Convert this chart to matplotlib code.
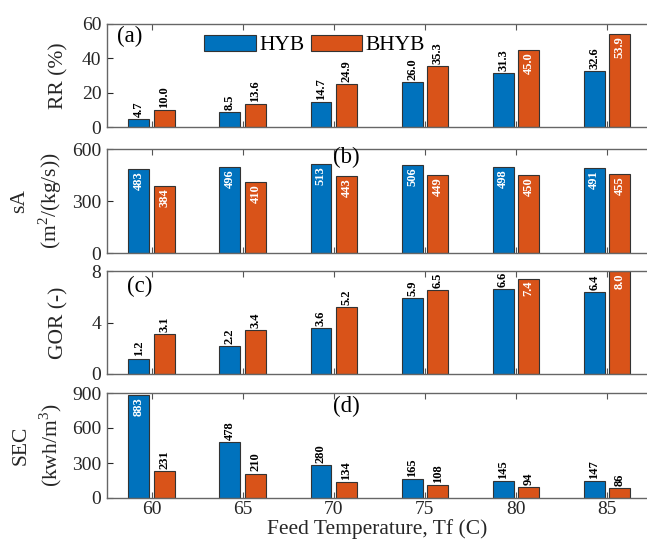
import numpy as np
import matplotlib
matplotlib.use("Agg")
from matplotlib import pyplot as plt

plt.rcParams['font.family'] = ['Liberation Serif', 'DejaVu Serif']
plt.rcParams['mathtext.fontset'] = 'custom'
plt.rcParams['mathtext.rm'] = 'Liberation Serif'

# data
temps = [60, 65, 70, 75, 80, 85]
rr_hyb = [4.7, 8.5, 14.7, 26.0, 31.3, 32.6]
rr_bhyb = [10.0, 13.6, 24.9, 35.3, 45.0, 53.9]
sa_hyb = [483, 496, 513, 506, 498, 491]
sa_bhyb = [384, 410, 443, 449, 450, 455]
gor_hyb = [1.2, 2.2, 3.6, 5.9, 6.6, 6.4]
gor_bhyb = [3.1, 3.4, 5.2, 6.5, 7.4, 8.0]
sec_hyb = [883, 478, 280, 165, 145, 147]
sec_bhyb = [231, 210, 134, 108, 94, 86]

blue = '#0072BD'
orange = '#D95319'
txt = '#262626'

fig = plt.figure(figsize=(6.47, 5.39), dpi=100)
W, H = 647, 539
left, right = 107 / W, 1.0
panels_px = [(24, 127), (149, 253), (271, 374), (393, 498)]
axes = []
for top, bot in panels_px:
    ax = fig.add_axes([left, 1 - bot / H, right - left, (bot - top) / H])
    axes.append(ax)

panels = [
    (rr_hyb, rr_bhyb, 60, [0, 20, 40, 60], 'RR (%)', '(a)', '{:.1f}',
     [False] * 6, [False, False, False, False, True, True], (0.019, 0.98), -0.072),
    (sa_hyb, sa_bhyb, 600, [0, 300, 600], 'sA\n(m$^2$/(kg/s))', '(b)', '{:.0f}',
     [True] * 6, [True] * 6, (0.418, 1.02), -0.08),
    (gor_hyb, gor_bhyb, 8, [0, 4, 8], 'GOR (-)', '(c)', '{:.1f}',
     [False] * 6, [False, False, False, False, True, True], (0.037, 0.95), -0.072),
    (sec_hyb, sec_bhyb, 900, [0, 300, 600, 900], 'SEC\n(kwh/m$^3$)', '(d)', '{:.0f}',
     [True, False, False, False, False, False], [False] * 6, (0.418, 0.97), -0.08),
]

x = np.array(temps, dtype=float)
bw = 1.15
off = 0.7

for ax, (h, b, ymax, yt, ylab, tag, fmt, in_h, in_b, tagpos, labx) in zip(axes, panels):
    ax.bar(x - off, h, bw, color=blue, edgecolor='#333333', linewidth=0.8, label='HYB')
    ax.bar(x + off, b, bw, color=orange, edgecolor='#333333', linewidth=0.8, label='BHYB')
    pad = ymax * 0.02
    for xs, vals, inside in [(x - off, h, in_h), (x + off, b, in_b)]:
        for xi, v, ins in zip(xs, vals, inside):
            if ins:
                ax.text(xi, v - pad, fmt.format(v), rotation=90, ha='center', va='top',
                        color='white', fontsize=9, fontweight='bold')
            else:
                ax.text(xi, v + pad, fmt.format(v), rotation=90, ha='center', va='bottom',
                        color='black', fontsize=9, fontweight='bold')
    ax.set_xlim(57.55, 87.2)
    ax.set_ylim(0, ymax)
    ax.set_yticks(yt)
    ax.set_xticks(temps)
    ax.tick_params(direction='in', length=4, width=0.8, labelsize=14, colors=txt,
                   top=True, right=False, pad=4)
    ax.tick_params(axis='x', colors='#555555', labelcolor=txt, pad=2)
    for s in ['left', 'bottom', 'top']:
        ax.spines[s].set_color('#666666')
        ax.spines[s].set_linewidth(1.0)
    ax.spines['right'].set_visible(False)
    ax.set_ylabel(ylab, fontsize=15.5, color=txt, linespacing=1.35)
    ax.yaxis.set_label_coords(labx, 0.5)
    ax.text(tagpos[0], tagpos[1], tag, transform=ax.transAxes, fontsize=16.5,
            color='black', ha='left', va='top')
    if ax is not axes[-1]:
        ax.tick_params(labelbottom=False)

axes[-1].set_xlabel('Feed Temperature, Tf (C)', fontsize=15.5, color=txt, labelpad=1)

axes[0].legend(loc='upper left', bbox_to_anchor=(0.16, 1.0), ncol=2, frameon=False,
               fontsize=15.5, handlelength=2.4, handleheight=0.8, columnspacing=0.3,
               handletextpad=0.15, borderaxespad=0.1)

fig.savefig('out.png', dpi=100)
